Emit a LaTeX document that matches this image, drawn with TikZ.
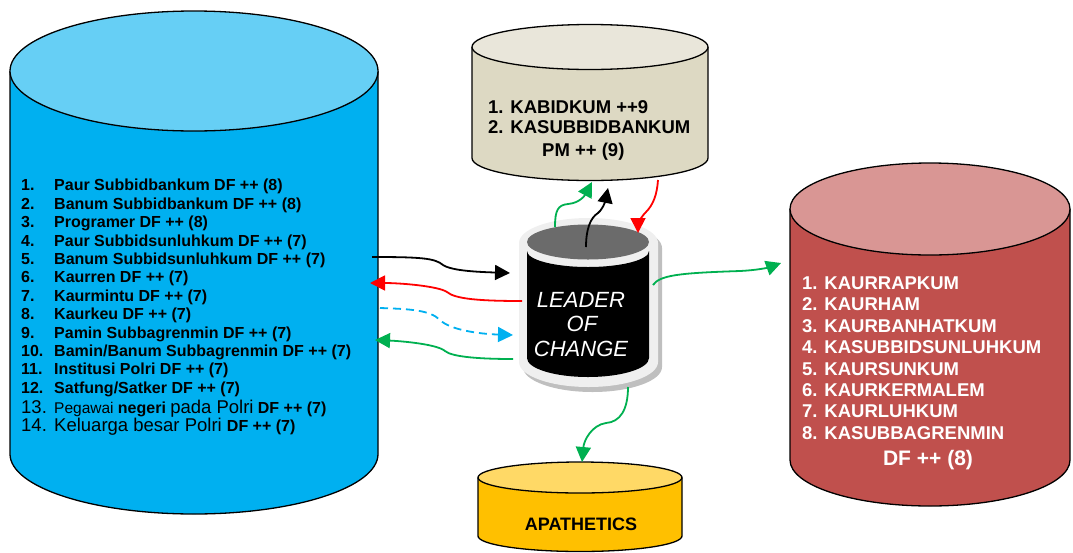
\documentclass[tikz,border=0pt]{standalone}
\usepackage{fontspec}
\setmainfont{Liberation Sans}
\usetikzlibrary{arrows.meta}
\definecolor{bluebody}{HTML}{00B0F0}
\definecolor{bluetop}{HTML}{66CFF5}
\definecolor{beigebody}{HTML}{DDD9C3}
\definecolor{beigetop}{HTML}{E9E6DA}
\definecolor{redbody}{HTML}{C0504D}
\definecolor{redtop}{HTML}{D99694}
\definecolor{yelbody}{HTML}{FFC000}
\definecolor{yeltop}{HTML}{FFD966}
\definecolor{cgreen}{HTML}{00B050}
\definecolor{cred}{HTML}{FF0000}
\definecolor{cblue}{HTML}{00B0F0}
\definecolor{rimgray}{HTML}{EFEFEF}
\definecolor{shadowgray}{HTML}{BFBFBF}
\definecolor{lidgray}{HTML}{6B6B6B}
% cx, rx, ytop, ybot, ry, body, top
\newcommand\drawcyl[7]{%
  \fill[#6] (#1-#2,#3) -- (#1-#2,#4) arc[start angle=180,end angle=0,x radius=#2,y radius=#5] -- (#1+#2,#3) -- cycle;
  \draw[cylline] (#1-#2,#3) -- (#1-#2,#4) arc[start angle=180,end angle=0,x radius=#2,y radius=#5] -- (#1+#2,#3);
  \filldraw[cylline,fill=#7] (#1,#3) ellipse[x radius=#2,y radius=#5];
}
\tikzset{
  cylline/.style={draw=black,line width=1.3pt},
  conn/.style={line width=1.8pt,-{Triangle[length=15pt,width=15pt]}},
  litem/.style={anchor=base west,inner sep=0pt,font=\fontsize{16}{18}\selectfont\bfseries},
  rtext/.style={anchor=base west,inner sep=0pt,text=white,font=\fontsize{18.5}{22}\selectfont\bfseries},
  btext/.style={anchor=base west,inner sep=0pt,font=\fontsize{18.5}{22}\selectfont\bfseries},
  ltext/.style={anchor=base,inner sep=0pt,text=white,font=\fontsize{22}{26}\selectfont\itshape},
}
\begin{document}
\begin{tikzpicture}[x=1pt,y=-1pt]
\useasboundingbox (0,0) rectangle (1073,552);
% cylinders
\drawcyl{194}{184}{71}{454}{60}{bluebody}{bluetop}
\drawcyl{590}{118}{47}{158}{22.5}{beigebody}{beigetop}
\drawcyl{930}{140}{209}{460}{46}{redbody}{redtop}
\drawcyl{580}{102}{477.5}{536}{15.5}{yelbody}{yeltop}
% leader cylinder
\fill[shadowgray] (523,248) -- (523,367) arc[start angle=180,end angle=0,x radius=69.5,y radius=25] -- (662,248) arc[start angle=360,end angle=180,x radius=69.5,y radius=25] -- cycle;
\fill[rimgray] (519,243) -- (519,362) arc[start angle=180,end angle=0,x radius=69.5,y radius=25] -- (658,243) arc[start angle=360,end angle=180,x radius=69.5,y radius=25] -- cycle;
\fill[black] (527,251) -- (527,358) arc[start angle=180,end angle=0,x radius=61,y radius=19] -- (649,358) -- (649,251) arc[start angle=0,end angle=180,x radius=61,y radius=16] -- cycle;
\fill[lidgray] (588,242) ellipse[x radius=61,y radius=17.5];
% texts left
\node[litem] (n1) at (21,190.7) {1.};   \node[litem] (t1) at (54,190.7) {Paur Subbidbankum DF ++ (8)};
\node[litem] (n2) at (21,209.1) {2.};   \node[litem] (t2) at (54,209.1) {Banum Subbidbankum DF ++ (8)};
\node[litem] (n3) at (21,227.5) {3.};   \node[litem] (t3) at (54,227.5) {Programer DF ++ (8)};
\node[litem] (n4) at (21,246.0) {4.};   \node[litem] (t4) at (54,246.0) {Paur Subbidsunluhkum DF ++ (7)};
\node[litem] (n5) at (21,264.4) {5.};   \node[litem] (t5) at (54,264.4) {Banum Subbidsunluhkum DF ++ (7)};
\node[litem] (n6) at (21,282.8) {6.};   \node[litem] (t6) at (54,282.8) {Kaurren DF ++ (7)};
\node[litem] (n7) at (21,301.2) {7.};   \node[litem] (t7) at (54,301.2) {Kaurmintu DF ++ (7)};
\node[litem] (n8) at (21,319.6) {8.};   \node[litem] (t8) at (54,319.6) {Kaurkeu DF ++ (7)};
\node[litem] (n9) at (21,338.1) {9.};   \node[litem] (t9) at (54,338.1) {Pamin Subbagrenmin DF ++ (7)};
\node[litem] (n10) at (21,356.5) {10.}; \node[litem] (t10) at (54,356.5) {Bamin/Banum Subbagrenmin DF ++ (7)};
\node[litem] (n11) at (21,374.9) {11.}; \node[litem] (t11) at (54,374.9) {Institusi Polri DF ++ (7)};
\node[litem] (n12) at (21,393.3) {12.}; \node[litem] (t12) at (54,393.3) {Satfung/Satker DF ++ (7)};
\node[litem,font=\fontsize{18.5}{22}\selectfont] (n13) at (21,413.3) {13.};
\node[litem,font=\fontsize{15.5}{22}\selectfont] (t13) at (54,413.3) {Pegawai {\fontsize{16}{18}\selectfont\bfseries negeri} {\fontsize{18.5}{22}\selectfont pada Polri} {\fontsize{16}{18}\selectfont\bfseries DF ++ (7)}};
\node[litem,font=\fontsize{18.5}{22}\selectfont] (n14) at (21,431.7) {14.};
\node[litem,font=\fontsize{18.5}{22}\selectfont] (t14) at (54,431.7) {Keluarga besar Polri {\fontsize{16}{18}\selectfont\bfseries DF ++ (7)}};
% beige texts
\node[btext] (k1) at (488,113.3) {1. KABIDKUM ++9};
\node[btext] (k2) at (488,133.3) {2. KASUBBIDBANKUM};
\node[btext] (k3) at (542,156) {PM ++ (9)};
% red texts
\node[rtext] (r1) at (802,289.3) {1. KAURRAPKUM};
\node[rtext] (r2) at (802,310.7) {2. KAURHAM};
\node[rtext] (r3) at (802,332.2) {3. KAURBANHATKUM};
\node[rtext] (r4) at (802,353.6) {4. KASUBBIDSUNLUHKUM};
\node[rtext] (r5) at (802,375.0) {5. KAURSUNKUM};
\node[rtext] (r6) at (802,396.5) {6. KAURKERMALEM};
\node[rtext] (r7) at (802,417.9) {7. KAURLUHKUM};
\node[rtext] (r8) at (802,439.3) {8. KASUBBAGRENMIN};
\node[rtext,anchor=base,font=\fontsize{21}{24}\selectfont\bfseries] (r9) at (928,465) {DF ++ (8)};
% apathetics
\node[btext,anchor=base,font=\fontsize{18}{22}\selectfont\bfseries] (ap) at (581,530) {APATHETICS};
% leader
\node[ltext] (l1) at (581,307.7) {LEADER};
\node[ltext] (l2) at (582,331.7) {OF};
\node[ltext] (l3) at (581,356.7) {CHANGE};
% connector endpoints
\coordinate (bkS) at (372,257); \coordinate (bkE) at (510,273);
\coordinate (rdS) at (522,301); \coordinate (rdE) at (370,283);
\coordinate (blS) at (380,308); \coordinate (blE) at (513,335);
\coordinate (gnS) at (513,359); \coordinate (gnE) at (375,340);
\coordinate (guS) at (555,227); \coordinate (guE) at (592,182);
\coordinate (kuS) at (586,247); \coordinate (kuE) at (608,188);
\coordinate (rdS2) at (658,180); \coordinate (rdE2) at (638,233);
\coordinate (grS) at (653,285); \coordinate (grE) at (781,263);
\coordinate (gdS) at (628,387); \coordinate (gdE) at (582,462);
% connectors
\draw[conn,black] (bkS) .. controls (420,257) and (435,258) .. (443,265) .. controls (452,271) and (480,272) .. (bkE);
\draw[conn,cred] (rdS) .. controls (480,301) and (455,299) .. (447,292) .. controls (438,286) and (400,283) .. (rdE);
\draw[conn,cblue,dash pattern=on 8pt off 5pt] (blS) .. controls (410,309) and (430,310) .. (440,320) .. controls (450,330) and (480,334) .. (blE);
\draw[conn,cgreen] (gnS) .. controls (480,359) and (452,357) .. (445,351) .. controls (437,344) and (400,341) .. (gnE);
\draw[conn,cgreen] (guS) .. controls (555,210) and (558,205) .. (568,204) .. controls (580,203) and (585,195) .. (guE);
\draw[conn,black] (kuS) .. controls (586,230) and (590,218) .. (598,213) .. controls (604,208) and (606,198) .. (kuE);
\draw[conn,cred] (rdS2) .. controls (657,195) and (653,205) .. (646,212) .. controls (640,218) and (638,225) .. (rdE2);
\draw[conn,cgreen] (grS) .. controls (660,275) and (680,273) .. (740,271) .. controls (760,270) and (770,267) .. (grE);
\draw[conn,cgreen] (gdS) .. controls (628,410) and (620,422) .. (606,423) .. controls (592,425) and (584,440) .. (gdE);
\end{tikzpicture}
\end{document}
